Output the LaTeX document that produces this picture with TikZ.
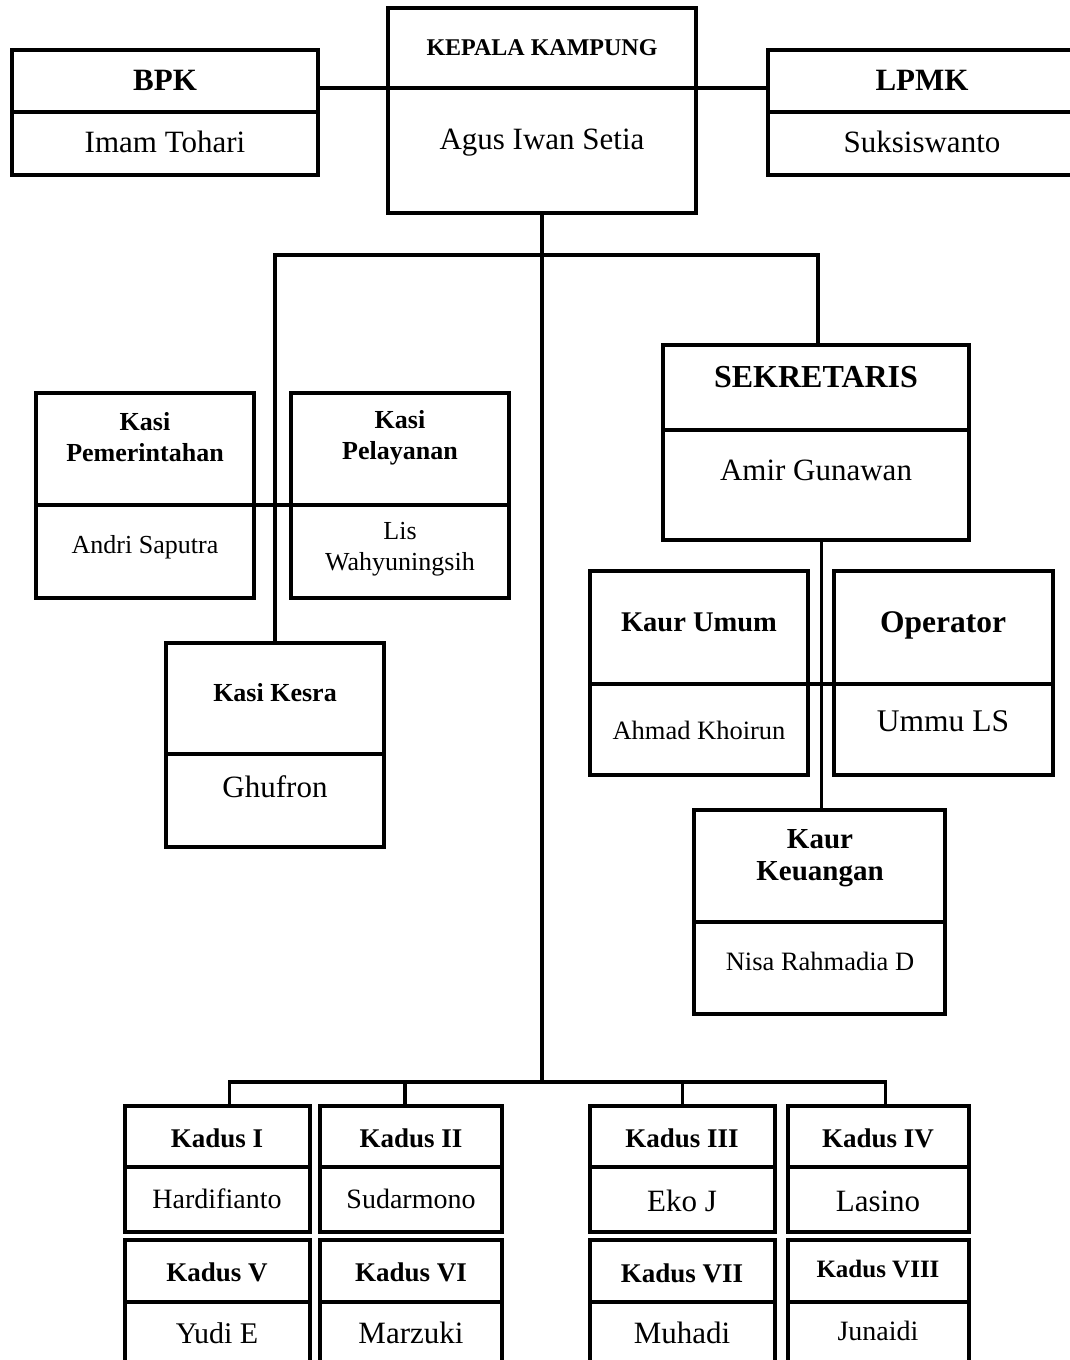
\documentclass[tikz,border=0pt]{standalone}
\usepackage{fontspec}
\setmainfont{Liberation Serif}

\tikzset{
  part/.style={draw, line width=3.2pt, inner sep=0pt, outer sep=0pt, anchor=north west},
  link/.style={line width=3.8pt},
  ttl/.style={font=\bfseries\fontsize{#1}{#1}\selectfont, align=center, inner sep=0pt},
  who/.style={font=\fontsize{#1}{#1}\selectfont, align=center, inner sep=0pt},
}

% kotak dua bagian: nama, x kiri, y atas, y garis tengah, x kanan, y bawah
\newcommand{\unitbox}[6]{%
  \node[part, minimum width={(#5-#2)*1pt}, minimum height={(#4-#3)*1pt}] (#1-t) at (#2,#3) {};
  \node[part, minimum width={(#5-#2)*1pt}, minimum height={(#6-#4)*1pt}] (#1-b) at (#2,#4) {};
}

\begin{document}
\begin{tikzpicture}[x=1pt, y=-1pt]
    \useasboundingbox (0,0) rectangle (1070,1360);
    \clip (0,0) rectangle (1070,1360);

    % kotak
    \unitbox{kepala}{388}{8}{88}{696}{213}
    \unitbox{bpk}{12}{50}{112}{318}{175}
    \unitbox{lpmk}{768}{50}{112}{1076}{175}
    \unitbox{pem}{36}{393}{505}{254}{598}
    \unitbox{pel}{291}{393}{505}{509}{598}
    \unitbox{kesra}{166}{643}{754}{384}{847}
    \unitbox{sek}{663}{345}{430}{969}{540}
    \unitbox{umum}{590}{571}{684}{808}{775}
    \unitbox{opr}{834}{571}{684}{1053}{775}
    \unitbox{keu}{694}{810}{922}{945}{1014}
    \foreach \id/\xa/\xb in {1/125/310, 2/320/502, 3/590/775, 4/788/969}{
        \unitbox{kadus\id}{\xa}{1106}{1167}{\xb}{1232}
    }
    \foreach \id/\xa/\xb in {5/125/310, 6/320/502, 7/590/775, 8/788/969}{
        \unitbox{kadus\id}{\xa}{1240}{1302}{\xb}{1385}
    }

    % garis
    \coordinate (atas) at (kepala-b.south |- 0,255);
    \coordinate (bawah) at (kepala-b.south |- 0,1082);
    \draw[link] (kepala-t.south west) -- (bpk-t.east |- kepala-t.south west);
    \draw[link] (kepala-t.south east) -- (lpmk-t.west |- kepala-t.south east);
    \draw[link] (kepala-b.south) -- (bawah);
    \draw[link] (kesra-t.north) -- (kesra-t.north |- atas) -- ([xshift=2pt]sek-t.north |- atas) -- ([xshift=2pt]sek-t.north);
    \draw[link] (pem-t.south east) -- (pel-t.south west);
    \draw[link] ([xshift=2pt]keu-t.north |- sek-b.south) -- ([xshift=2pt]keu-t.north);
    \draw[link] (umum-t.south east) -- (opr-t.south west);
    \draw[link] ([xshift=12pt]kadus1-t.north) |- (bawah) -| ([xshift=7pt]kadus4-t.north);
    \draw[link] ([xshift=-6pt]kadus2-t.north) -- ([xshift=-6pt]kadus2-t.north |- bawah);
    \draw[link] (kadus3-t.north) -- (kadus3-t.north |- bawah);

    % teks
    \node[ttl=24] (kepala-h) at (542,48) {KEPALA KAMPUNG};
    \node[who=31] (kepala-n) at (542,143) {Agus Iwan Setia};
    \node[ttl=31] (bpk-h) at (165,80) {BPK};
    \node[who=31] (bpk-n) at (165,142) {Imam Tohari};
    \node[ttl=31] (lpmk-h) at (922,80) {LPMK};
    \node[who=31] (lpmk-n) at (922,142) {Suksiswanto};
    \node[ttl=26] (pem-h) at (145,437) {Kasi\\[5pt]Pemerintahan};
    \node[who=26] (pem-n) at (145,547) {Andri Saputra};
    \node[ttl=26] (pel-h) at (400,438) {Kasi\\[5pt]Pelayanan};
    \node[who=26] (pel-n) at (400,549) {Lis\\[5pt]Wahyuningsih};
    \node[ttl=26] (kesra-h) at (275,693) {Kasi Kesra};
    \node[who=31] (kesra-n) at (275,787) {Ghufron};
    \node[ttl=32] (sek-h) at (816,377) {SEKRETARIS};
    \node[who=31] (sek-n) at (816,470) {Amir Gunawan};
    \node[ttl=28.5] (umum-h) at (699,622) {Kaur Umum};
    \node[who=26.5] (umum-n) at (699,730) {Ahmad Khoirun};
    \node[ttl=31.5] (opr-h) at (943,625) {Operator};
    \node[who=31.5] (opr-n) at (943,721) {Ummu LS};
    \node[ttl=29] (keu-h) at (820,858) {Kaur\\[3pt]Keuangan};
    \node[who=26.5] (keu-n) at (820,961) {Nisa Rahmadia D};
    \foreach \id/\cx/\ty/\ny/\ts/\ns/\ttxt/\ntxt in {
        1/217/1138/1199/27/28/Kadus I/Hardifianto,
        2/411/1138/1199/27/28/Kadus II/Sudarmono,
        3/682/1138/1201/27/31/Kadus III/Eko J,
        4/878/1138/1201/27/31/Kadus IV/Lasino,
        5/217/1272/1333/27/30/Kadus V/Yudi E,
        6/411/1272/1333/27/31/Kadus VI/Marzuki,
        7/682/1273/1333/27/31/Kadus VII/Muhadi,
        8/878/1269/1331/25/28/Kadus VIII/Junaidi}{
        \node[ttl=\ts] (kadus\id-h) at (\cx,\ty) {\ttxt};
        \node[who=\ns] (kadus\id-n) at (\cx,\ny) {\ntxt};
    }
\end{tikzpicture}
\end{document}
